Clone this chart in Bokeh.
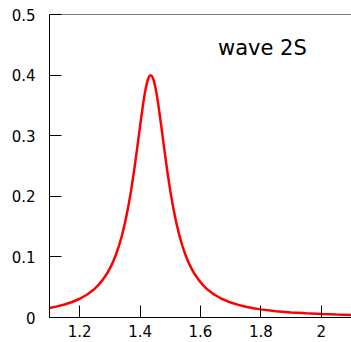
from bokeh.plotting import figure
from bokeh.models import Range1d, FixedTicker, Span, Label
from bokeh.embed import file_html
from bokeh.resources import INLINE

# Curve
mass = [1.10, 1.125, 1.15, 1.175, 1.20, 1.225, 1.25, 1.26, 1.275, 1.29, 1.30,
        1.31, 1.32, 1.33, 1.34, 1.35, 1.36, 1.37, 1.38, 1.39, 1.395, 1.40,
        1.41, 1.415, 1.42, 1.425, 1.43, 1.435, 1.44, 1.445, 1.45, 1.455,
        1.46, 1.47, 1.475, 1.48, 1.49, 1.50, 1.51, 1.52, 1.53, 1.54, 1.55,
        1.56, 1.57, 1.58, 1.595, 1.61, 1.62, 1.645, 1.67, 1.70, 1.725, 1.75,
        1.775, 1.80, 1.85, 1.90, 1.95, 2.00, 2.05, 2.10]
intensity = [0.0158, 0.0184, 0.0215, 0.0256, 0.0309, 0.0380, 0.0476, 0.0525,
             0.0612, 0.0721, 0.0810, 0.0913, 0.1036, 0.1182, 0.1355, 0.1561,
             0.1805, 0.2090, 0.2418, 0.2782, 0.2972, 0.3162, 0.3524, 0.3682,
             0.3814, 0.3915, 0.3979, 0.4000, 0.3979, 0.3915, 0.3814, 0.3682,
             0.3524, 0.3162, 0.2972, 0.2782, 0.2418, 0.2090, 0.1805, 0.1561,
             0.1355, 0.1182, 0.1036, 0.0913, 0.0810, 0.0721, 0.0612, 0.0525,
             0.0476, 0.0380, 0.0309, 0.0247, 0.0208, 0.0178, 0.0154, 0.0134,
             0.0105, 0.0084, 0.0069, 0.0057, 0.0048, 0.0041]

x_ticks = [1.2, 1.4, 1.6, 1.8, 2.0]
y_ticks = [0, 0.1, 0.2, 0.3, 0.4, 0.5]
label_text = "wave 2S"

FONT = "DejaVu Sans"

p = figure(width=351, height=342, output_backend="svg", toolbar_location=None,
           x_range=Range1d(1.1, 2.1), y_range=Range1d(0, 0.5),
           min_border_left=49, min_border_right=0, min_border_top=14,
           min_border_bottom=25)
p.outline_line_color = None
p.xgrid.visible = False
p.ygrid.visible = False
p.background_fill_color = "white"
p.border_fill_color = "white"

for ax in (p.xaxis[0], p.yaxis[0]):
    ax.major_tick_in = 12
    ax.major_tick_out = 0
    ax.minor_tick_in = 0
    ax.minor_tick_out = 0
    ax.axis_line_color = "black"
    ax.major_tick_line_color = "black"
    ax.major_label_text_font = FONT
    ax.major_label_text_font_size = "15px"
    ax.major_label_text_color = "black"

p.xaxis[0].ticker = FixedTicker(ticks=x_ticks)
p.yaxis[0].ticker = FixedTicker(ticks=y_ticks)
p.xaxis[0].major_label_overrides = {2: "2", 2.0: "2"}
p.yaxis[0].major_label_overrides = {0: "0"}
p.xaxis[0].major_label_standoff = 7
p.yaxis[0].major_label_standoff = 14

p.add_layout(Span(location=0.5, dimension="width", line_color="black", line_width=1))

p.line(mass, intensity, line_color="#ff0000", line_width=2.5)

p.add_layout(Label(x=1.658, y=0.445, text=label_text, text_font=FONT,
                   text_font_size="21px", text_color="black",
                   text_baseline="middle", text_align="left"))

open("out.html", "w").write(file_html(p, INLINE))
